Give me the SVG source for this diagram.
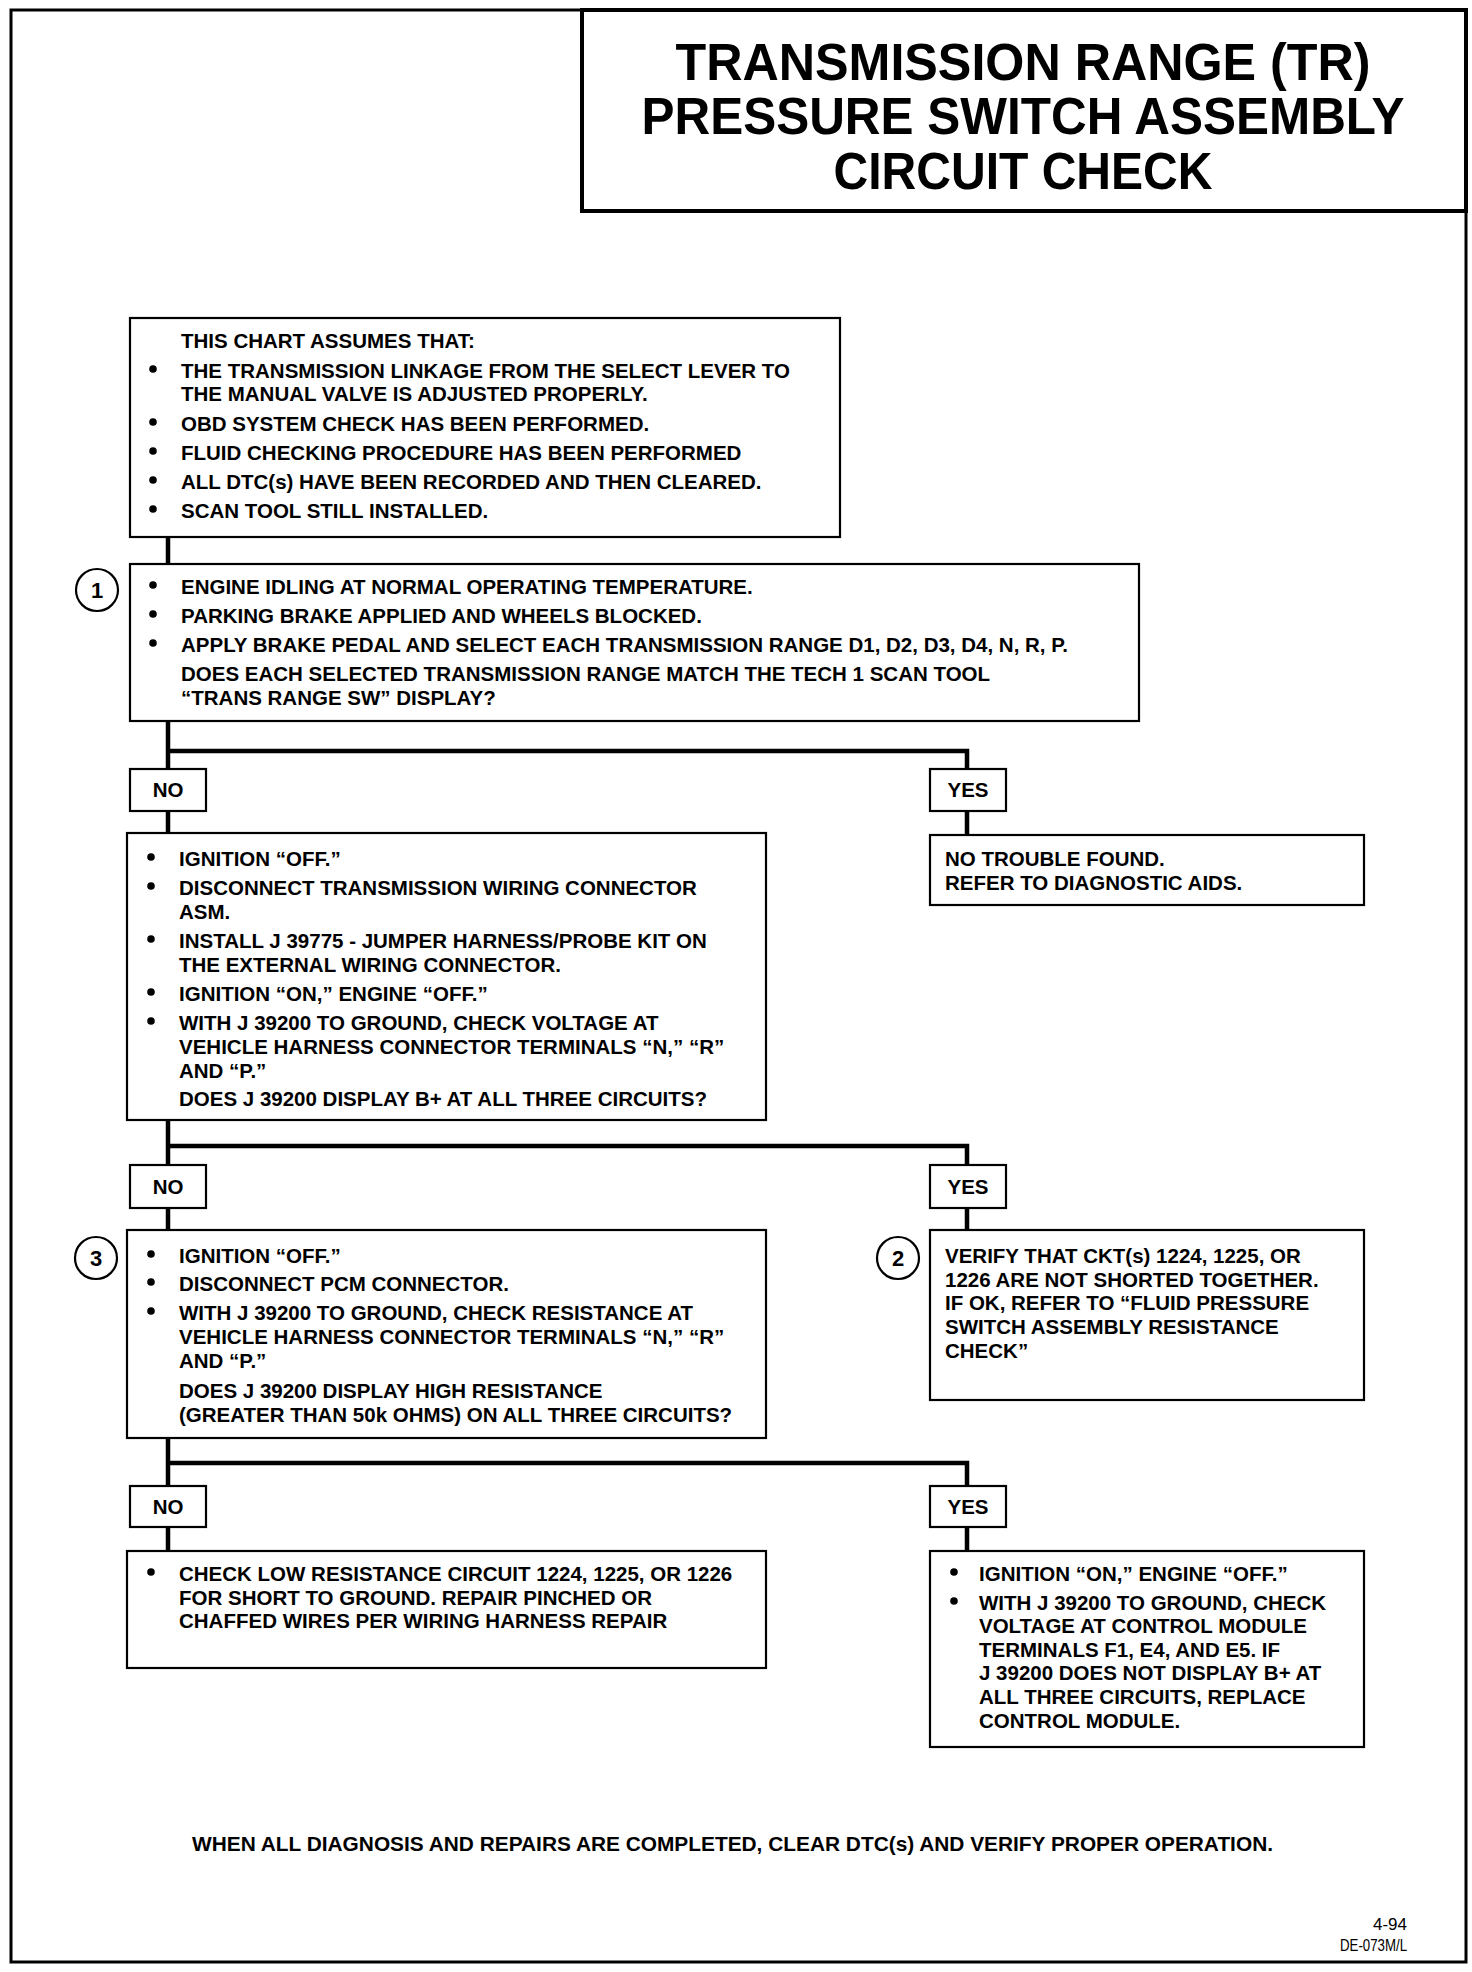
<svg xmlns="http://www.w3.org/2000/svg" width="1472" height="1972" viewBox="0 0 1472 1972">
<style>
  .frame{fill:none;stroke:#000;stroke-width:3}
  .title{fill:#fff;stroke:#000;stroke-width:4}
  .box{fill:#fff;stroke:#000;stroke-width:2.2}
  .lbl{fill:#fff;stroke:#000;stroke-width:2.2}
  .conn{fill:none;stroke:#000;stroke-width:4.5}
  .circ{fill:#fff;stroke:#000;stroke-width:2.2}
  text{font-family:"Liberation Sans",Arial,sans-serif;font-weight:bold;fill:#000}
  .t{font-size:20.5px}
  .h{font-size:51px}
  .c{text-anchor:middle}
  .n{font-size:22px}
  .sm{font-size:16px;font-weight:normal;text-anchor:end}
</style>
<defs>
  <circle id="bul" r="3.8" fill="#000"/>
</defs>
<rect class="frame" x="11" y="10" width="1455" height="1952"/>
<g id="title">
  <rect class="title" x="582" y="10" width="884" height="201"/>
  <text class="h c" x="1023" y="80" textLength="695" lengthAdjust="spacingAndGlyphs">TRANSMISSION RANGE (TR)</text>
  <text class="h c" x="1023" y="134" textLength="763" lengthAdjust="spacingAndGlyphs">PRESSURE SWITCH ASSEMBLY</text>
  <text class="h c" x="1023" y="189" textLength="379" lengthAdjust="spacingAndGlyphs">CIRCUIT CHECK</text>
</g>
<g id="connectors">
  <path class="conn" d="M168 537V564"/>
  <path class="conn" d="M168 721V833"/>
  <path class="conn" d="M168 751H967V835"/>
  <path class="conn" d="M168 1120V1230"/>
  <path class="conn" d="M168 1146H967V1230"/>
  <path class="conn" d="M168 1438V1551"/>
  <path class="conn" d="M168 1463H967V1551"/>
</g>
<g id="assumptions">
  <rect class="box" x="130" y="318" width="710" height="219"/>
  <text class="t" x="181" y="348">THIS CHART ASSUMES THAT:</text>
  <use href="#bul" x="153" y="369"/>
  <text class="t" x="181" y="378">THE TRANSMISSION LINKAGE FROM THE SELECT LEVER TO</text>
  <text class="t" x="181" y="401">THE MANUAL VALVE IS ADJUSTED PROPERLY.</text>
  <use href="#bul" x="153" y="422"/>
  <text class="t" x="181" y="431">OBD SYSTEM CHECK HAS BEEN PERFORMED.</text>
  <use href="#bul" x="153" y="451"/>
  <text class="t" x="181" y="460">FLUID CHECKING PROCEDURE HAS BEEN PERFORMED</text>
  <use href="#bul" x="153" y="480"/>
  <text class="t" x="181" y="489">ALL DTC(s) HAVE BEEN RECORDED AND THEN CLEARED.</text>
  <use href="#bul" x="153" y="509"/>
  <text class="t" x="181" y="518">SCAN TOOL STILL INSTALLED.</text>
</g>
<g id="step1">
  <rect class="box" x="130" y="564" width="1009" height="157"/>
  <circle class="circ" cx="97" cy="590" r="21"/>
  <text class="n c" x="97" y="598">1</text>
  <use href="#bul" x="153" y="585"/>
  <text class="t" x="181" y="594">ENGINE IDLING AT NORMAL OPERATING TEMPERATURE.</text>
  <use href="#bul" x="153" y="614"/>
  <text class="t" x="181" y="623">PARKING BRAKE APPLIED AND WHEELS BLOCKED.</text>
  <use href="#bul" x="153" y="643"/>
  <text class="t" x="181" y="652">APPLY BRAKE PEDAL AND SELECT EACH TRANSMISSION RANGE D1, D2, D3, D4, N, R, P.</text>
  <text class="t" x="181" y="681">DOES EACH SELECTED TRANSMISSION RANGE MATCH THE TECH 1 SCAN TOOL</text>
  <text class="t" x="181" y="705">“TRANS RANGE SW” DISPLAY?</text>
</g>
<g id="no1">
  <rect class="lbl" x="130" y="769" width="76" height="42"/>
  <text class="t c" x="168" y="797">NO</text>
</g>
<g id="yes1">
  <rect class="lbl" x="930" y="769" width="76" height="42"/>
  <text class="t c" x="968" y="797">YES</text>
</g>
<g id="step-no1">
  <rect class="box" x="127" y="833" width="639" height="287"/>
  <use href="#bul" x="151" y="857"/>
  <text class="t" x="179" y="866">IGNITION “OFF.”</text>
  <use href="#bul" x="151" y="886"/>
  <text class="t" x="179" y="895">DISCONNECT TRANSMISSION WIRING CONNECTOR</text>
  <text class="t" x="179" y="919">ASM.</text>
  <use href="#bul" x="151" y="939"/>
  <text class="t" x="179" y="948">INSTALL J 39775 - JUMPER HARNESS/PROBE KIT ON</text>
  <text class="t" x="179" y="972">THE EXTERNAL WIRING CONNECTOR.</text>
  <use href="#bul" x="151" y="992"/>
  <text class="t" x="179" y="1001">IGNITION “ON,” ENGINE “OFF.”</text>
  <use href="#bul" x="151" y="1021"/>
  <text class="t" x="179" y="1030">WITH J 39200 TO GROUND, CHECK VOLTAGE AT</text>
  <text class="t" x="179" y="1054">VEHICLE HARNESS CONNECTOR TERMINALS “N,” “R”</text>
  <text class="t" x="179" y="1078">AND “P.”</text>
  <text class="t" x="179" y="1106">DOES J 39200 DISPLAY B+ AT ALL THREE CIRCUITS?</text>
</g>
<g id="ntf">
  <rect class="box" x="930" y="835" width="434" height="70"/>
  <text class="t" x="945" y="866">NO TROUBLE FOUND.</text>
  <text class="t" x="945" y="890">REFER TO DIAGNOSTIC AIDS.</text>
</g>
<g id="no2">
  <rect class="lbl" x="130" y="1165" width="76" height="43"/>
  <text class="t c" x="168" y="1194">NO</text>
</g>
<g id="yes2">
  <rect class="lbl" x="930" y="1165" width="76" height="43"/>
  <text class="t c" x="968" y="1194">YES</text>
</g>
<g id="step3">
  <rect class="box" x="127" y="1230" width="639" height="208"/>
  <circle class="circ" cx="96" cy="1258" r="21"/>
  <text class="n c" x="96" y="1266">3</text>
  <use href="#bul" x="151" y="1254"/>
  <text class="t" x="179" y="1263">IGNITION “OFF.”</text>
  <use href="#bul" x="151" y="1282"/>
  <text class="t" x="179" y="1291">DISCONNECT PCM CONNECTOR.</text>
  <use href="#bul" x="151" y="1311"/>
  <text class="t" x="179" y="1320">WITH J 39200 TO GROUND, CHECK RESISTANCE AT</text>
  <text class="t" x="179" y="1344">VEHICLE HARNESS CONNECTOR TERMINALS “N,” “R”</text>
  <text class="t" x="179" y="1368">AND “P.”</text>
  <text class="t" x="179" y="1398">DOES J 39200 DISPLAY HIGH RESISTANCE</text>
  <text class="t" x="179" y="1422">(GREATER THAN 50k OHMS) ON  ALL THREE CIRCUITS?</text>
</g>
<g id="step2">
  <rect class="box" x="930" y="1230" width="434" height="170"/>
  <circle class="circ" cx="898" cy="1258" r="21"/>
  <text class="n c" x="898" y="1266">2</text>
  <text class="t" x="945" y="1263">VERIFY THAT CKT(s) 1224, 1225, OR</text>
  <text class="t" x="945" y="1287">1226 ARE NOT SHORTED TOGETHER.</text>
  <text class="t" x="945" y="1310">IF OK, REFER TO “FLUID PRESSURE</text>
  <text class="t" x="945" y="1334">SWITCH ASSEMBLY RESISTANCE</text>
  <text class="t" x="945" y="1358">CHECK”</text>
</g>
<g id="no3">
  <rect class="lbl" x="130" y="1486" width="76" height="41"/>
  <text class="t c" x="168" y="1514">NO</text>
</g>
<g id="yes3">
  <rect class="lbl" x="930" y="1486" width="76" height="41"/>
  <text class="t c" x="968" y="1514">YES</text>
</g>
<g id="step-no3">
  <rect class="box" x="127" y="1551" width="639" height="117"/>
  <use href="#bul" x="151" y="1572"/>
  <text class="t" x="179" y="1581">CHECK LOW RESISTANCE CIRCUIT 1224, 1225, OR 1226</text>
  <text class="t" x="179" y="1605">FOR SHORT TO GROUND. REPAIR PINCHED OR</text>
  <text class="t" x="179" y="1628">CHAFFED WIRES PER WIRING HARNESS REPAIR</text>
</g>
<g id="step-yes3">
  <rect class="box" x="930" y="1551" width="434" height="196"/>
  <use href="#bul" x="954" y="1572"/>
  <text class="t" x="979" y="1581">IGNITION “ON,” ENGINE “OFF.”</text>
  <use href="#bul" x="954" y="1601"/>
  <text class="t" x="979" y="1610">WITH J 39200 TO GROUND, CHECK</text>
  <text class="t" x="979" y="1633">VOLTAGE AT CONTROL MODULE</text>
  <text class="t" x="979" y="1657">TERMINALS F1, E4, AND E5. IF</text>
  <text class="t" x="979" y="1680">J 39200 DOES NOT DISPLAY B+ AT</text>
  <text class="t" x="979" y="1704">ALL THREE CIRCUITS, REPLACE</text>
  <text class="t" x="979" y="1728">CONTROL MODULE.</text>
</g>
<g id="footer">
  <text class="t" x="192" y="1851" textLength="1081" lengthAdjust="spacingAndGlyphs">WHEN ALL DIAGNOSIS AND REPAIRS ARE COMPLETED, CLEAR DTC(s) AND VERIFY PROPER OPERATION.</text>
  <text class="sm" x="1407" y="1930" textLength="34" lengthAdjust="spacingAndGlyphs">4-94</text>
  <text class="sm" x="1407" y="1951" textLength="67" lengthAdjust="spacingAndGlyphs">DE-073M/L</text>
</g>
</svg>
